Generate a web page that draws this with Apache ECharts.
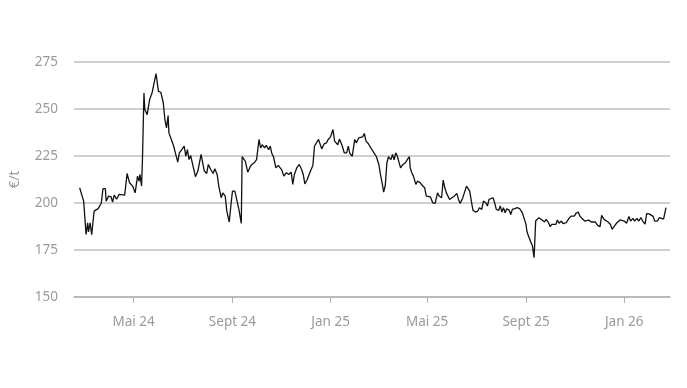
<!DOCTYPE html>
<html><head><meta charset="utf-8">
<script src="https://cdn.jsdelivr.net/npm/echarts@6/dist/echarts.min.js"></script>
<style>html,body{margin:0;padding:0;background:#fff}#c{width:687px;height:388px}</style>
</head><body><div id="c"></div>
<script>
const dates = [
'2024-02-24','2024-02-29','2024-03-03','2024-03-05','2024-03-06','2024-03-08','2024-03-10','2024-03-13','2024-03-15','2024-03-18',
'2024-03-22','2024-03-24','2024-03-27','2024-03-28','2024-03-31','2024-04-03','2024-04-05','2024-04-07','2024-04-10','2024-04-13',
'2024-04-15','2024-04-20','2024-04-23','2024-04-26','2024-04-28','2024-04-30','2024-05-03','2024-05-06','2024-05-08','2024-05-09',
'2024-05-11','2024-05-12','2024-05-14','2024-05-15','2024-05-16','2024-05-18','2024-05-21','2024-05-24','2024-05-26','2024-05-29',
'2024-06-01','2024-06-04','2024-06-07','2024-06-09','2024-06-11','2024-06-13','2024-06-14','2024-06-17','2024-06-20','2024-06-22',
'2024-06-25','2024-06-27','2024-06-30','2024-07-03','2024-07-05','2024-07-07','2024-07-09','2024-07-11','2024-07-14','2024-07-17',
'2024-07-20','2024-07-24','2024-07-28','2024-07-31','2024-08-02','2024-08-05','2024-08-08','2024-08-10','2024-08-13','2024-08-15',
'2024-08-18','2024-08-20','2024-08-23','2024-08-25','2024-08-28','2024-08-30','2024-09-01','2024-09-04','2024-09-06','2024-09-09',
'2024-09-12','2024-09-13','2024-09-15','2024-09-17','2024-09-20','2024-09-23','2024-09-25','2024-09-28','2024-10-01','2024-10-04',
'2024-10-06','2024-10-08','2024-10-11','2024-10-13','2024-10-16','2024-10-18','2024-10-20','2024-10-22','2024-10-25','2024-10-28',
'2024-11-01','2024-11-04','2024-11-07','2024-11-10','2024-11-13','2024-11-15','2024-11-17','2024-11-20','2024-11-23','2024-11-26',
'2024-11-28','2024-11-30','2024-12-03','2024-12-07','2024-12-10','2024-12-12','2024-12-14','2024-12-17','2024-12-19','2024-12-21',
'2024-12-24','2024-12-27','2024-12-29','2025-01-01','2025-01-04','2025-01-06','2025-01-08','2025-01-10','2025-01-12','2025-01-15',
'2025-01-18','2025-01-21','2025-01-23','2025-01-25','2025-01-28','2025-01-31','2025-02-02','2025-02-05','2025-02-07','2025-02-10',
'2025-02-12','2025-02-14','2025-02-17','2025-02-20','2025-02-24','2025-02-27','2025-03-02','2025-03-04','2025-03-06','2025-03-08',
'2025-03-10','2025-03-12','2025-03-14','2025-03-17','2025-03-19','2025-03-21','2025-03-23','2025-03-25','2025-03-27','2025-03-29',
'2025-04-01','2025-04-04','2025-04-07','2025-04-09','2025-04-10','2025-04-12','2025-04-14','2025-04-17','2025-04-19','2025-04-22',
'2025-04-25','2025-04-28','2025-04-30','2025-05-02','2025-05-05','2025-05-08','2025-05-11','2025-05-14','2025-05-16','2025-05-19',
'2025-05-21','2025-05-23','2025-05-25','2025-05-29','2025-06-01','2025-06-04','2025-06-07','2025-06-09','2025-06-11','2025-06-14',
'2025-06-16','2025-06-19','2025-06-20','2025-06-23','2025-06-25','2025-06-27','2025-06-30','2025-07-03','2025-07-05','2025-07-08',
'2025-07-10','2025-07-13','2025-07-15','2025-07-17','2025-07-19','2025-07-22','2025-07-24','2025-07-26','2025-07-29','2025-07-31',
'2025-08-02','2025-08-04','2025-08-06','2025-08-08','2025-08-11','2025-08-13','2025-08-15','2025-08-18','2025-08-21','2025-08-24',
'2025-08-27','2025-08-30','2025-09-01','2025-09-02','2025-09-04','2025-09-06','2025-09-09','2025-09-11','2025-09-13','2025-09-15',
'2025-09-17','2025-09-19','2025-09-21','2025-09-24','2025-09-26','2025-09-29','2025-10-01','2025-10-03','2025-10-05','2025-10-08',
'2025-10-10','2025-10-12','2025-10-15','2025-10-17','2025-10-21','2025-10-24','2025-10-27','2025-10-29','2025-10-31','2025-11-02',
'2025-11-05','2025-11-07','2025-11-10','2025-11-13','2025-11-15','2025-11-18','2025-11-21','2025-11-23','2025-11-26','2025-11-29',
'2025-12-02','2025-12-04','2025-12-07','2025-12-09','2025-12-12','2025-12-15','2025-12-17','2025-12-20','2025-12-23','2025-12-27',
'2025-12-29','2026-01-01','2026-01-04','2026-01-07','2026-01-09','2026-01-12','2026-01-14','2026-01-17','2026-01-19','2026-01-22',
'2026-01-24','2026-01-27','2026-01-29','2026-02-01','2026-02-03','2026-02-06','2026-02-08','2026-02-11','2026-02-14','2026-02-16',
'2026-02-19','2026-02-22'
];
const prices = [
208.1,201.0,183.3,189.5,184.6,189.5,183.1,195.7,194.8,197.0,
200.0,207.6,207.6,201.0,203.7,203.3,200.5,204.2,202.0,204.6,
203.7,204.2,215.7,210.8,211.6,209.0,205.4,214.3,211.6,215.2,
209.0,221.4,258.5,249.7,250.6,247.0,255.0,258.5,259.4,268.8,
259.4,258.9,253.2,244.4,240.0,246.5,237.3,233.8,230.2,226.7,
221.7,226.7,228.4,230.2,224.9,228.4,223.1,225.3,219.6,214.0,
217.0,225.8,217.0,215.7,220.5,217.8,215.7,218.2,215.2,209.0,
202.8,205.4,203.7,195.7,189.9,198.4,206.3,206.3,205.4,196.6,
189.2,224.6,225.0,222.3,216.4,219.2,220.5,221.4,223.1,233.8,
229.3,231.0,229.3,230.7,228.4,230.2,226.3,224.6,218.7,220.0,
217.8,214.3,216.1,215.2,216.4,209.9,215.2,218.7,220.5,217.8,
215.2,210.2,212.5,217.0,220.0,230.2,229.3,233.8,232.9,228.8,
231.5,232.0,233.8,235.2,239.1,232.9,233.8,231.0,234.0,231.0,
226.7,226.7,230.2,226.3,224.9,233.8,232.0,234.6,234.0,235.2,
237.0,232.9,231.5,229.3,226.7,224.6,220.5,215.2,210.8,205.8,
209.3,221.4,224.6,223.1,225.8,223.0,226.7,224.9,221.7,218.7,
220.5,221.4,223.5,224.6,218.7,216.1,214.3,209.9,211.6,211.0,
209.3,208.1,203.7,202.8,203.3,200.1,199.8,205.4,203.7,202.8,
212.2,208.1,205.4,201.9,202.8,203.7,205.1,201.9,199.8,202.3,
201.6,209.0,209.3,206.3,201.0,196.2,195.2,195.7,197.5,196.6,
201.0,200.1,198.4,201.9,202.8,202.8,200.1,196.6,196.1,198.4,
195.2,197.5,194.8,196.9,196.2,193.9,196.6,197.0,197.5,197.0,
195.2,191.3,188.6,185.1,182.4,183.3,177.1,170.9,190.4,191.3,
192.2,192.6,191.0,189.9,191.3,189.5,187.4,188.6,188.1,188.6,
191.0,189.2,190.4,189.0,189.5,191.6,193.0,193.9,193.0,194.5,
195.2,193.0,191.6,190.4,189.5,190.9,189.9,190.4,189.9,188.1,
187.4,193.4,191.3,190.4,189.9,188.6,186.0,187.8,189.5,191.0,
191.3,190.4,189.2,192.8,190.4,191.8,190.4,191.8,190.4,192.2,
190.4,188.8,194.3,194.2,194.7,192.9,190.4,190.4,192.2,192.2,
191.4,197.5
];
const tickDates = ['2024-05-01','2024-09-01','2025-01-01','2025-05-01','2025-09-01','2026-01-01'];
const tickLabels = ['Mai 24','Sept 24','Jan 25','Mai 25','Sept 25','Jan 26'];
const yTicks = [150,175,200,225,250,275];
const axisRange = ['2024-02-17','2026-02-27'];
const yName = '€/t';

const P = s => Date.parse(s + 'T00:00:00Z');
const tickVals = tickDates.map(P);
const data = dates.map((d,i)=>[P(d), prices[i]]);
const font = '"Noto Sans", "Open Sans", sans-serif';
const chart = echarts.init(document.getElementById('c'), null, {renderer:'canvas'});
chart.setOption({
  animation:false,
  backgroundColor:'#fff',
  grid:{left:72,right:17,top:62,bottom:91,containLabel:false},
  xAxis:{
    type:'value', min:P(axisRange[0]), max:P(axisRange[1]), scale:true,
    axisLine:{show:true,lineStyle:{color:'#b4b4b4',width:1.5}},
    axisTick:{show:true,length:6,customValues:tickVals,lineStyle:{color:'#b4b4b4',width:1}},
    axisLabel:{customValues:tickVals,margin:18,color:'#9a9a9a',fontSize:13.5,fontFamily:font,
      formatter:v=>{const i=tickVals.indexOf(v);return i>=0?tickLabels[i]:'';}},
    splitLine:{show:false}
  },
  yAxis:{
    type:'value', min:yTicks[0], max:yTicks[yTicks.length-1], interval:25,
    name:yName, nameLocation:'middle', nameGap:52, nameRotate:90,
    nameTextStyle:{color:'#9a9a9a',fontSize:13.5,fontFamily:font},
    axisLine:{show:false}, axisTick:{show:false},
    axisLabel:{margin:16,color:'#9a9a9a',fontSize:13.5,fontFamily:font},
    splitLine:{show:true,lineStyle:{color:'#c0c0c0',width:1.5}}
  },
  series:[{type:'line',data:data,showSymbol:false,symbol:'none',
    lineStyle:{color:'#111',width:1.3}}]
});
</script></body></html>
